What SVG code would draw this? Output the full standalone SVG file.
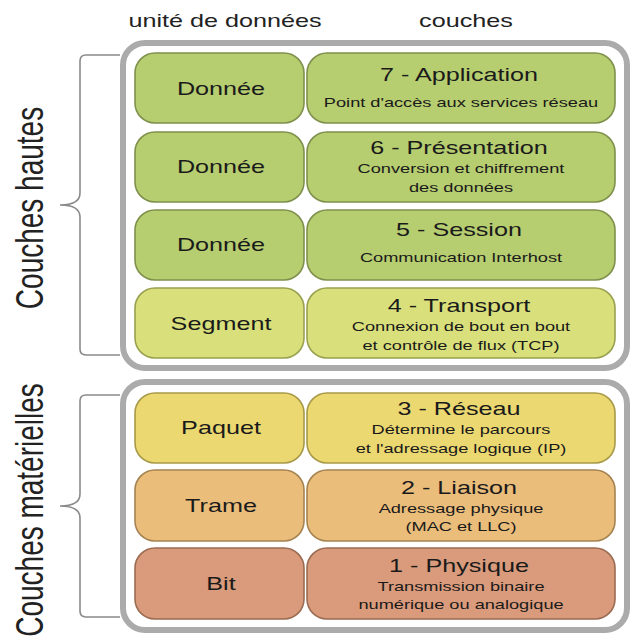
<svg xmlns="http://www.w3.org/2000/svg" width="632" height="639" viewBox="0 0 632 639">
<style>
text{font-family:"Liberation Sans",Arial,sans-serif;fill:#1a1a1a;text-anchor:middle}
.hd{font-size:18px;fill:#222}
.side{font-size:28px;fill:#222}
.lbl{font-size:18px}
.ttl{font-size:18px}
.sub{font-size:13px}
.cont{fill:#fff;stroke:#ababab;stroke-width:6}
.br{fill:none;stroke:#8a8a8a;stroke-width:1.6}
.g{fill:#b6cd70;stroke:#7f904c;stroke-width:1.6}
.yg{fill:#d9e07b;stroke:#99a04f;stroke-width:1.6}
.y{fill:#ebd871;stroke:#a89948;stroke-width:1.6}
.o{fill:#eabd7b;stroke:#a58350;stroke-width:1.6}
.r{fill:#d99b7b;stroke:#9b6b52;stroke-width:1.6}
</style>
<rect width="632" height="639" fill="#fff"/>
<g id="headers">
<g transform="translate(225,0) scale(1.4,1)"><text class="hd" x="0" y="27">unité de données</text></g>
<g transform="translate(466,0) scale(1.4,1)"><text class="hd" x="0" y="27">couches</text></g>
</g>
<g id="side-labels">
<text class="side" transform="translate(43,208) scale(1.4,1) rotate(-90)" x="0" y="0">Couches hautes</text>
<text class="side" transform="translate(43,510) scale(1.4,1) rotate(-90)" x="0" y="0">Couches matérielles</text>
</g>
<g id="brackets">
<path class="br" d="M120,55 L86,55 Q80,55 80,61 L80,193 Q80,205 60,205 Q80,205 80,217 L80,349 Q80,355 86,355 L120,355"/>
<path class="br" d="M120,395 L86,395 Q80,395 80,401 L80,494 Q80,506 60,506 Q80,506 80,518 L80,611 Q80,617 86,617 L120,617"/>
</g>
<g id="containers">
<rect id="upper-container" class="cont" x="123" y="43" width="504" height="325" rx="22"/>
<rect id="lower-container" class="cont" x="123" y="382" width="504" height="248" rx="22"/>
</g>
<g id="layer7">
<rect class="g" x="135" y="53" width="169" height="70" rx="20"/>
<rect class="g" x="307" y="53" width="308" height="70" rx="20"/>
<g transform="translate(221,0) scale(1.4,1)"><text class="lbl" x="0" y="95">Donnée</text></g>
<g transform="translate(459,0) scale(1.4,1)"><text class="ttl" x="0" y="81">7 - Application</text></g>
<g transform="translate(461,0) scale(1.4,1)"><text class="sub" x="0" y="107">Point d'accès aux services réseau</text></g>
</g>
<g id="layer6">
<rect class="g" x="135" y="132" width="169" height="70" rx="20"/>
<rect class="g" x="307" y="132" width="308" height="70" rx="20"/>
<g transform="translate(221,0) scale(1.4,1)"><text class="lbl" x="0" y="173">Donnée</text></g>
<g transform="translate(459,0) scale(1.4,1)"><text class="ttl" x="0" y="154">6 - Présentation</text></g>
<g transform="translate(461,0) scale(1.4,1)"><text class="sub" x="0" y="173">Conversion et chiffrement</text><text class="sub" x="0" y="192">des données</text></g>
</g>
<g id="layer5">
<rect class="g" x="135" y="210" width="169" height="70" rx="20"/>
<rect class="g" x="307" y="210" width="308" height="70" rx="20"/>
<g transform="translate(221,0) scale(1.4,1)"><text class="lbl" x="0" y="251">Donnée</text></g>
<g transform="translate(459,0) scale(1.4,1)"><text class="ttl" x="0" y="236">5 - Session</text></g>
<g transform="translate(461,0) scale(1.4,1)"><text class="sub" x="0" y="262">Communication Interhost</text></g>
</g>
<g id="layer4">
<rect class="yg" x="135" y="288" width="169" height="70" rx="20"/>
<rect class="yg" x="307" y="288" width="308" height="70" rx="20"/>
<g transform="translate(221,0) scale(1.4,1)"><text class="lbl" x="0" y="330">Segment</text></g>
<g transform="translate(459,0) scale(1.4,1)"><text class="ttl" x="0" y="312">4 - Transport</text></g>
<g transform="translate(461,0) scale(1.4,1)"><text class="sub" x="0" y="331">Connexion de bout en bout</text><text class="sub" x="0" y="350">et contrôle de flux (TCP)</text></g>
</g>
<g id="layer3">
<rect class="y" x="135" y="393" width="169" height="70" rx="20"/>
<rect class="y" x="307" y="393" width="308" height="70" rx="20"/>
<g transform="translate(221,0) scale(1.4,1)"><text class="lbl" x="0" y="434">Paquet</text></g>
<g transform="translate(459,0) scale(1.4,1)"><text class="ttl" x="0" y="415">3 - Réseau</text></g>
<g transform="translate(461,0) scale(1.4,1)"><text class="sub" x="0" y="434">Détermine le parcours</text><text class="sub" x="0" y="453">et l'adressage logique (IP)</text></g>
</g>
<g id="layer2">
<rect class="o" x="135" y="470" width="169" height="71" rx="20"/>
<rect class="o" x="307" y="470" width="308" height="71" rx="20"/>
<g transform="translate(221,0) scale(1.4,1)"><text class="lbl" x="0" y="512">Trame</text></g>
<g transform="translate(459,0) scale(1.4,1)"><text class="ttl" x="0" y="494">2 - Liaison</text></g>
<g transform="translate(461,0) scale(1.4,1)"><text class="sub" x="0" y="513">Adressage physique</text><text class="sub" x="0" y="531">(MAC et LLC)</text></g>
</g>
<g id="layer1">
<rect class="r" x="135" y="548" width="169" height="71" rx="20"/>
<rect class="r" x="307" y="548" width="308" height="71" rx="20"/>
<g transform="translate(221,0) scale(1.4,1)"><text class="lbl" x="0" y="590">Bit</text></g>
<g transform="translate(459,0) scale(1.4,1)"><text class="ttl" x="0" y="572">1 - Physique</text></g>
<g transform="translate(461,0) scale(1.4,1)"><text class="sub" x="0" y="591">Transmission binaire</text><text class="sub" x="0" y="609">numérique ou analogique</text></g>
</g>
</svg>
